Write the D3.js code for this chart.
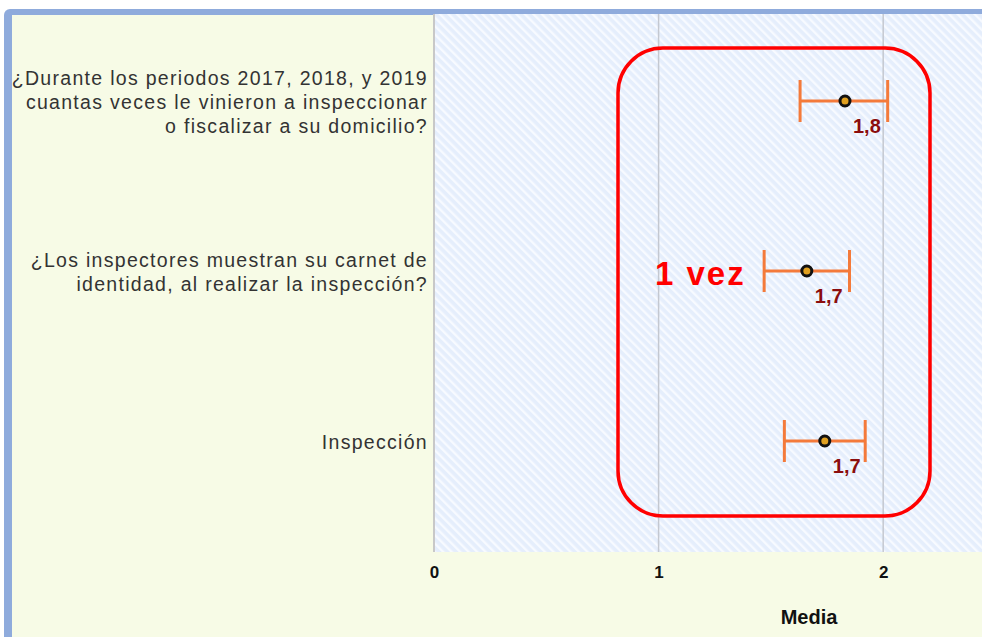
<!DOCTYPE html>
<html>
<head>
<meta charset="utf-8">
<script src="https://cdn.jsdelivr.net/npm/d3@7"></script>
<style>
  body { margin: 0; background: #fff; }
  svg { display: block; font-family: "Liberation Sans", Arial, sans-serif; }
</style>
</head>
<body>
<script>
// data
var categories = [
  ["¿Durante los periodos 2017, 2018, y 2019", "cuantas veces le vinieron a inspeccionar", "o fiscalizar a su domicilio?"],
  ["¿Los inspectores muestran su carnet de", "identidad, al realizar la inspección?"],
  ["Inspección"]
];
var means = [1.83, 1.66, 1.74];
var lower = [1.63, 1.47, 1.56];
var upper = [2.02, 1.85, 1.92];
var meanLabels = ["1,8", "1,7", "1,7"];
var xTicks = [0, 1, 2];

var width = 982, height = 637;
var plotLeft = 434, plotTop = 14, plotBottom = 552;

var svg = d3.select("body").append("svg")
  .attr("width", width)
  .attr("height", height);

// hatch pattern for the plot area
var defs = svg.append("defs");
var pat = defs.append("pattern")
  .attr("id", "hatch")
  .attr("patternUnits", "userSpaceOnUse")
  .attr("width", 6).attr("height", 6)
  .attr("patternTransform", "rotate(-45)");
pat.append("rect").attr("width", 6).attr("height", 6).attr("fill", "#e5eefc");
pat.append("rect").attr("width", 2.4).attr("height", 6).attr("fill", "#f7faff");

// outer frame
svg.append("rect")
  .attr("x", 4).attr("y", 9)
  .attr("width", width + 20).attr("height", height + 20)
  .attr("rx", 6)
  .attr("fill", "#8fabdc");
svg.append("rect")
  .attr("x", 12).attr("y", 15)
  .attr("width", width).attr("height", height)
  .attr("fill", "#f7fbe6");

var xScale = d3.scaleLinear()
  .domain([0, 2.44])
  .range([plotLeft, 982]);

var yScale = d3.scalePoint()
  .domain(d3.range(categories.length))
  .range([103, 443]);

svg.append("rect")
  .attr("x", plotLeft).attr("y", plotTop)
  .attr("width", width - plotLeft).attr("height", plotBottom - plotTop)
  .attr("fill", "url(#hatch)");

// grid lines
svg.selectAll("line.grid")
  .data(xTicks)
  .enter()
  .append("line")
  .attr("class", "grid")
  .attr("x1", (d) => xScale(d)).attr("x2", (d) => xScale(d))
  .attr("y1", plotTop).attr("y2", plotBottom)
  .attr("stroke", (d) => d === 0 ? "#c8c8c8" : "#c4c8d0")
  .attr("stroke-width", (d) => d === 0 ? 2 : 1.5);

// x axis
var xAxis = d3.axisBottom(xScale)
  .tickValues(xTicks)
  .tickSize(0)
  .tickPadding(14)
  .tickFormat(d3.format("d"));

var gx = svg.append("g")
  .attr("transform", "translate(0," + plotBottom + ")")
  .call(xAxis);
gx.select(".domain").remove();
gx.selectAll("text")
  .attr("font-size", 17)
  .attr("font-weight", "bold")
  .attr("fill", "#111")
  .attr("font-family", "'Liberation Sans Narrow', 'Liberation Sans', Arial, sans-serif");

svg.append("text")
  .attr("x", 809).attr("y", 624)
  .attr("text-anchor", "middle")
  .attr("font-size", 20)
  .attr("font-weight", "bold")
  .attr("fill", "#111")
  .text("Media");

// category labels
var lineH = 24;
var catG = svg.selectAll("text.cat")
  .data(categories)
  .enter()
  .append("text")
  .attr("class", "cat")
  .attr("text-anchor", "end")
  .attr("font-size", 19.5)
  .attr("letter-spacing", 1.3)
  .attr("fill", "#333");
catG.selectAll("tspan")
  .data((d, i) => d.map((t, j) => ({t: t, j: j, n: d.length, i: i})))
  .enter()
  .append("tspan")
  .attr("x", 428)
  .attr("y", (d) => yScale(d.i) + (d.j - (d.n - 1) / 2) * lineH + 6)
  .text((d) => d.t);

// error bars
var capH = 21;
var bars = svg.selectAll("g.bar")
  .data(means)
  .enter()
  .append("g")
  .attr("class", "bar");
bars.append("line")
  .attr("x1", (d, i) => xScale(lower[i])).attr("x2", (d, i) => xScale(upper[i]))
  .attr("y1", (d, i) => yScale(i) - 2).attr("y2", (d, i) => yScale(i) - 2)
  .attr("stroke", "#f47a3a").attr("stroke-width", 3);
bars.append("line")
  .attr("x1", (d, i) => xScale(lower[i])).attr("x2", (d, i) => xScale(lower[i]))
  .attr("y1", (d, i) => yScale(i) - 2 - capH).attr("y2", (d, i) => yScale(i) - 2 + capH)
  .attr("stroke", "#f47a3a").attr("stroke-width", 3);
bars.append("line")
  .attr("x1", (d, i) => xScale(upper[i])).attr("x2", (d, i) => xScale(upper[i]))
  .attr("y1", (d, i) => yScale(i) - 2 - capH).attr("y2", (d, i) => yScale(i) - 2 + capH)
  .attr("stroke", "#f47a3a").attr("stroke-width", 3);
bars.append("circle")
  .attr("cx", (d) => xScale(d))
  .attr("cy", (d, i) => yScale(i) - 2)
  .attr("r", 5)
  .attr("fill", "#e0a020")
  .attr("stroke", "#111")
  .attr("stroke-width", 3);
bars.append("text")
  .attr("x", (d) => xScale(d) + 8)
  .attr("y", (d, i) => yScale(i) + 30)
  .attr("font-size", 20)
  .attr("font-weight", "bold")
  .attr("fill", "#8b0d0d")
  .attr("font-family", "'Liberation Sans Narrow', 'Liberation Sans', Arial, sans-serif")
  .text((d, i) => meanLabels[i]);

// red annotation
svg.append("rect")
  .attr("x", 618).attr("y", 48)
  .attr("width", 312).attr("height", 468)
  .attr("rx", 45)
  .attr("fill", "none")
  .attr("stroke", "#ff0000")
  .attr("stroke-width", 3.5);
svg.append("text")
  .attr("x", 655).attr("y", 285)
  .attr("font-size", 33)
  .attr("font-weight", "bold")
  .attr("letter-spacing", 2)
  .attr("fill", "#ff0000")
  .text("1 vez");
</script>
</body>
</html>
